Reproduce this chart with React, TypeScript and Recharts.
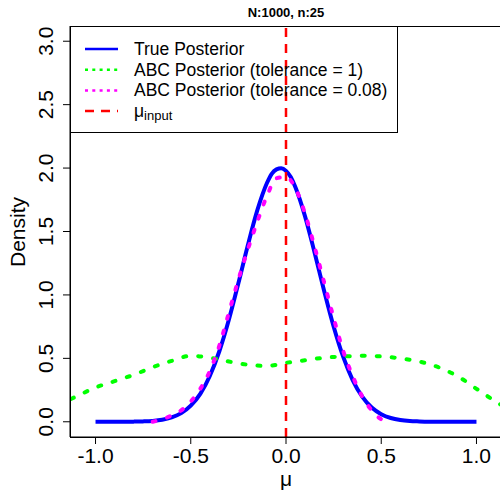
import { LineChart, Line, XAxis, YAxis, ReferenceLine } from "recharts";

// x positions (mu) and densities
const trueX = [
  -1.0, -0.95, -0.9, -0.85, -0.8, -0.75, -0.7, -0.65, -0.6, -0.55, -0.5,
  -0.45, -0.4, -0.35, -0.3, -0.25, -0.2, -0.15, -0.1, -0.075, -0.05, -0.025,
  0.0, 0.025, 0.05, 0.1, 0.15, 0.2, 0.25, 0.3, 0.35, 0.4, 0.45, 0.5, 0.55,
  0.6, 0.65, 0.7, 0.75, 0.8, 0.85, 0.9, 0.95, 1.0,
];
const trueY = [
  0, 0, 0.0002, 0.0004, 0.0012, 0.003, 0.007, 0.016, 0.035, 0.068, 0.127,
  0.22, 0.361, 0.556, 0.804, 1.092, 1.394, 1.67, 1.882, 1.955, 1.99, 1.999,
  1.978, 1.929, 1.846, 1.619, 1.334, 1.033, 0.751, 0.513, 0.329, 0.198, 0.112,
  0.06, 0.03, 0.014, 0.006, 0.003, 0.001, 0.0004, 0.0001, 0, 0, 0,
];

const abcWideX = [
  -1.2, -1.1, -1.0, -0.9, -0.8, -0.7, -0.6, -0.5, -0.4, -0.3, -0.2, -0.1, 0.0,
  0.1, 0.2, 0.3, 0.4, 0.5, 0.6, 0.7, 0.8, 0.9, 1.0, 1.1, 1.2,
];
const abcWideY = [
  0.13, 0.2, 0.27, 0.32, 0.37, 0.43, 0.48, 0.52, 0.505, 0.475, 0.45, 0.44,
  0.465, 0.485, 0.505, 0.515, 0.52, 0.515, 0.5, 0.475, 0.43, 0.36, 0.26, 0.16,
  0.07,
];

const abcNarrowX = [
  -0.7, -0.65, -0.6, -0.55, -0.5, -0.45, -0.4, -0.35, -0.3, -0.25, -0.2,
  -0.15, -0.1, -0.05, 0.0, 0.05, 0.1, 0.15, 0.2, 0.25, 0.3, 0.35, 0.4, 0.45,
  0.5, 0.55,
];
const abcNarrowY = [
  0.0, 0.02, 0.05, 0.09, 0.16, 0.26, 0.4, 0.6, 0.86, 1.12, 1.36, 1.58, 1.78,
  1.92, 1.93, 1.84, 1.64, 1.38, 1.1, 0.82, 0.56, 0.36, 0.2, 0.09, 0.02, 0.0,
];

const xTicks = [-1.0, -0.5, 0.0, 0.5, 1.0];
const yTicks = [0.0, 0.5, 1.0, 1.5, 2.0, 2.5, 3.0];
const muInput = 0;

const zip = (xs: number[], ys: number[]) => xs.map((x, i) => ({ x, y: ys[i] }));
const trueData = zip(trueX, trueY);
const wideData = zip(abcWideX, abcWideY);
const narrowData = zip(abcNarrowX, abcNarrowY);

const FONT = "'Liberation Sans', Arial, sans-serif";

const XTick = ({ x, payload }: any) => (
  <text x={x} y={463} textAnchor="middle" fontSize={21} fontFamily={FONT} fill="#000">
    {Number(payload.value).toFixed(1)}
  </text>
);

const YTick = ({ y, payload }: any) => (
  <text
    x={53}
    y={y}
    transform={`rotate(-90 53 ${y})`}
    textAnchor="middle"
    fontSize={21}
    fontFamily={FONT}
    fill="#000"
  >
    {Number(payload.value).toFixed(1)}
  </text>
);

const legendRows = [
  { label: "True Posterior", color: "#0000ff", dash: undefined, width: 2.5 },
  { label: "ABC Posterior (tolerance = 1)", color: "#00ff00", dash: "3 4.3", width: 2.5 },
  { label: "ABC Posterior (tolerance = 0.08)", color: "#ff00ff", dash: "3 4.3", width: 2.5 },
  { label: "mu", color: "#ff0000", dash: "9 7", width: 2.5 },
];

export default function App() {
  return (
    <div
      style={{
        position: "absolute",
        left: 0,
        top: 0,
        width: 500,
        height: 491,
        overflow: "hidden",
        background: "#fff",
      }}
    >
      <LineChart
        width={510}
        height={491}
        margin={{ top: 26, right: 8, bottom: 0, left: 0 }}
      >
        <XAxis
          type="number"
          dataKey="x"
          domain={[-1.134, 1.134]}
          allowDataOverflow
          ticks={xTicks}
          tick={<XTick />}
          tickSize={7}
          height={54}
          axisLine={{ stroke: "#000" }}
          tickLine={{ stroke: "#000" }}
        />
        <YAxis
          type="number"
          dataKey="y"
          domain={[-0.12, 3.12]}
          allowDataOverflow
          ticks={yTicks}
          tick={<YTick />}
          tickSize={7}
          width={70}
          axisLine={{ stroke: "#000" }}
          tickLine={{ stroke: "#000" }}
        />
        <Line
          data={trueData}
          dataKey="y"
          type="monotone"
          stroke="#0000ff"
          strokeWidth={4}
          dot={false}
          isAnimationActive={false}
        />
        <Line
          data={wideData}
          dataKey="y"
          type="monotone"
          stroke="#00ff00"
          strokeWidth={4}
          strokeDasharray="3 12"
          strokeLinecap="round"
          dot={false}
          isAnimationActive={false}
        />
        <Line
          data={narrowData}
          dataKey="y"
          type="monotone"
          stroke="#ff00ff"
          strokeWidth={4}
          strokeDasharray="3 12"
          strokeLinecap="round"
          dot={false}
          isAnimationActive={false}
        />
        <ReferenceLine x={muInput} stroke="#ff0000" strokeWidth={2.5} strokeDasharray="9 7" />
      </LineChart>
      <svg
        width={500}
        height={491}
        style={{ position: "absolute", left: 0, top: 0, pointerEvents: "none" }}
        fontFamily={FONT}
      >
        <rect x={70.5} y={26.5} width={432} height={411} fill="none" stroke="#000" />
        <text x={286} y={17} textAnchor="middle" fontSize={13} fontWeight="bold">
          N:1000, n:25
        </text>
        <text
          x={25}
          y={232}
          transform="rotate(-90 25 232)"
          textAnchor="middle"
          fontSize={21}
        >
          Density
        </text>
        <text x={286} y={486} textAnchor="middle" fontSize={21}>
          μ
        </text>
        <rect x={70.5} y={26.5} width={327} height={106} fill="none" stroke="#000" />
        {legendRows.map((r, i) => {
          const y = 49 + i * 20.7;
          return (
            <g key={r.label}>
              <line
                x1={85}
                x2={118}
                y1={y}
                y2={y}
                stroke={r.color}
                strokeWidth={r.width}
                strokeDasharray={r.dash}
              />
              {r.label === "mu" ? (
                <text x={134} y={y + 6} fontSize={17.5}>
                  μ
                  <tspan fontSize={13} dy={3}>
                    input
                  </tspan>
                </text>
              ) : (
                <text x={134} y={y + 6} fontSize={17.5}>
                  {r.label}
                </text>
              )}
            </g>
          );
        })}
      </svg>
    </div>
  );
}
